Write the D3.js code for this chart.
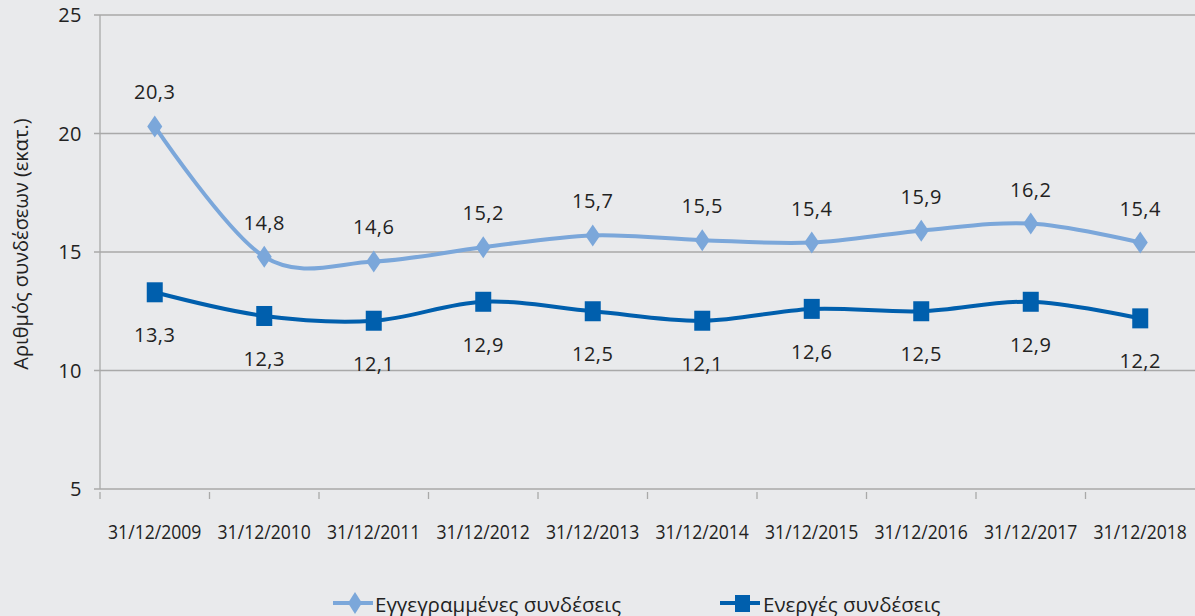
<!DOCTYPE html>
<html><head><meta charset="utf-8">
<script src="https://cdn.jsdelivr.net/npm/d3@7"></script>
<style>
html,body{margin:0;padding:0;background:#e9eaec;overflow:hidden;}
text{font-family:"Open Sans","DejaVu Sans",sans-serif;fill:#222;}
</style></head><body>
<svg id="c" width="1195" height="616"></svg>
<script>
const categories = ["31/12/2009","31/12/2010","31/12/2011","31/12/2012","31/12/2013","31/12/2014","31/12/2015","31/12/2016","31/12/2017","31/12/2018"];
const registered = [20.3,14.8,14.6,15.2,15.7,15.5,15.4,15.9,16.2,15.4];
const active = [13.3,12.3,12.1,12.9,12.5,12.1,12.6,12.5,12.9,12.2];
const yTicks = [5,10,15,20,25];
const seriesNames = ["Εγγεγραμμένες συνδέσεις","Ενεργές συνδέσεις"];
const yTitle = "Αριθμός συνδέσεων (εκατ.)";

const svg = d3.select("#c");
const pLeft = 100, pRight = 1195, pTop = 15, pBottom = 489;
const x = d3.scaleBand().domain(categories).range([pLeft, pRight]);
const y = d3.scaleLinear().domain([5,25]).range([pBottom, pTop]);
const gridC = "#a9a9a9";

svg.append("g").selectAll("line").data(yTicks).join("line")
  .attr("x1", pLeft-6).attr("x2", pRight).attr("y1", d=>y(d)).attr("y2", d=>y(d))
  .attr("stroke", gridC).attr("stroke-width", 1.3);
svg.append("line").attr("x1", pLeft).attr("x2", pLeft).attr("y1", pTop).attr("y2", pBottom)
  .attr("stroke", gridC).attr("stroke-width", 1.3);
svg.append("g").selectAll("text").data(yTicks).join("text")
  .attr("x", 82).attr("y", d=>y(d)).attr("dy","0.35em").attr("text-anchor","end")
  .style("font-size","20px").style("letter-spacing","0.5px").text(d=>d);
svg.append("g").selectAll("line").data(categories).join("line")
  .attr("x1", d=>x(d)).attr("x2", d=>x(d)).attr("y1", pBottom+3).attr("y2", pBottom+10)
  .attr("stroke", gridC).attr("stroke-width", 1.3);
svg.append("g").selectAll("text").data(categories).join("text")
  .attr("transform", d=>`translate(${x(d)+x.bandwidth()/2},532) scale(0.88,1)`)
  .attr("dy","0.35em").attr("text-anchor","middle")
  .style("font-size","20px").text(d=>d);
svg.append("text").attr("transform","translate(21,244) rotate(-90)").attr("text-anchor","middle")
  .attr("dy","0.35em").style("font-size","20px").text(yTitle);

const cx = d => x(d)+x.bandwidth()/2;
const line = d3.line().x((d,i)=>cx(categories[i])).y(d=>y(d)).curve(d3.curveCatmullRom.alpha(0));
const lightC = "#7ba7da", darkC = "#005fad";

svg.append("path").attr("d", line(registered)).attr("fill","none").attr("stroke",lightC).attr("stroke-width",4);
svg.append("path").attr("d", line(active)).attr("fill","none").attr("stroke",darkC).attr("stroke-width",4);

const diamondPath = (w,h) => `M0,${-h}L${w},0L0,${h}L${-w},0Z`;
svg.append("g").selectAll("path").data(registered).join("path")
  .attr("d", diamondPath(7.5,11)).attr("transform",(d,i)=>`translate(${cx(categories[i])},${y(d)})`).attr("fill",lightC);
svg.append("g").selectAll("rect").data(active).join("rect")
  .attr("x",(d,i)=>cx(categories[i])-8).attr("y",d=>y(d)-10).attr("width",16).attr("height",20).attr("fill",darkC);

const fmt = v => v.toFixed(1).replace(".",",");
svg.append("g").selectAll("text").data(registered).join("text")
  .attr("x",(d,i)=>cx(categories[i])).attr("y",d=>y(d)-34).attr("dy","0.35em").attr("text-anchor","middle")
  .style("font-size","20px").style("letter-spacing","0.5px").text(fmt);
svg.append("g").selectAll("text").data(active).join("text")
  .attr("x",(d,i)=>cx(categories[i])).attr("y",d=>y(d)+43).attr("dy","0.35em").attr("text-anchor","middle")
  .style("font-size","20px").style("letter-spacing","0.5px").text(fmt);

const lg = svg.append("g");
lg.append("line").attr("x1",333).attr("x2",373).attr("y1",603).attr("y2",603).attr("stroke",lightC).attr("stroke-width",4);
lg.append("path").attr("d",diamondPath(7,11)).attr("transform","translate(355,603)").attr("fill",lightC);
lg.append("text").attr("x",375).attr("y",611.5).style("font-size","20.5px").text(seriesNames[0]);
lg.append("line").attr("x1",720).attr("x2",760).attr("y1",603).attr("y2",603).attr("stroke",darkC).attr("stroke-width",4);
lg.append("rect").attr("x",735).attr("y",595).attr("width",15).attr("height",17).attr("fill",darkC);
lg.append("text").attr("x",763).attr("y",611.5).style("font-size","20.5px").text(seriesNames[1]);
</script></body></html>
